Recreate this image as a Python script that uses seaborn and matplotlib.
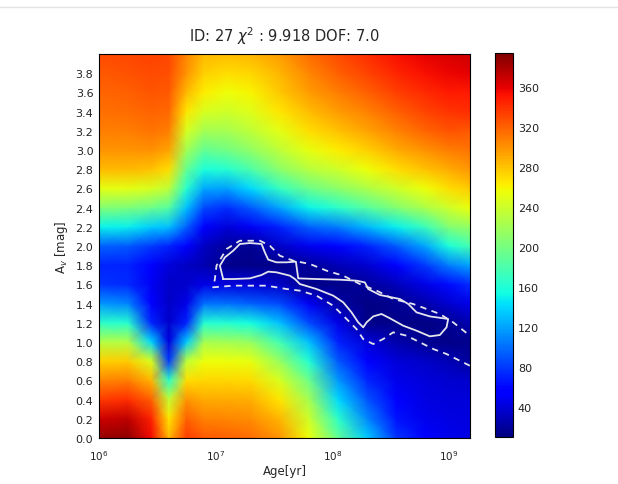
import numpy as np
import matplotlib
matplotlib.use("Agg")
import matplotlib.pyplot as plt
import seaborn as sns
from matplotlib.lines import Line2D

# Grid nodes: log10(age / yr) and extinction A_v [mag]
log_age = [6.0, 6.25, 6.45, 6.6, 6.75, 6.9, 7.1, 7.3, 7.55, 7.8, 8.05, 8.3, 8.55, 8.8, 9.0, 9.2]
av = [0.0, 0.2, 0.4, 0.6, 0.8, 1.0, 1.2, 1.4, 1.6, 1.8, 2.0,
      2.2, 2.4, 2.6, 2.8, 3.0, 3.2, 3.4, 3.6, 3.8, 4.0]

# chi^2 per age column, listed from A_v = 0.0 up to A_v = 4.0
chi2_columns = [
    [385, 368, 335, 305, 275, 228, 165, 115, 78, 72, 95, 150, 205, 250, 283, 298, 308, 313, 318, 323, 328],
    [388, 372, 340, 308, 276, 228, 162, 108, 73, 70, 92, 148, 203, 250, 283, 298, 308, 315, 320, 325, 330],
    [355, 345, 320, 285, 245, 140, 72, 58, 50, 52, 80, 135, 195, 245, 280, 300, 312, 318, 324, 329, 332],
    [285, 265, 235, 165, 80, 42, 36, 35, 35, 40, 70, 130, 185, 232, 268, 293, 307, 316, 322, 327, 330],
    [335, 320, 298, 268, 232, 135, 70, 45, 36, 33, 55, 95, 130, 163, 192, 220, 245, 266, 283, 298, 305],
    [322, 306, 290, 272, 255, 222, 160, 100, 45, 27, 33, 55, 85, 122, 158, 190, 220, 245, 262, 275, 283],
    [320, 305, 290, 272, 255, 220, 160, 100, 42, 15, 20, 40, 75, 118, 162, 198, 222, 240, 255, 268, 282],
    [315, 302, 288, 270, 252, 215, 155, 95, 40, 13, 16, 50, 92, 140, 180, 212, 232, 248, 260, 272, 285],
    [298, 285, 265, 245, 215, 175, 130, 85, 35, 14, 35, 70, 120, 170, 210, 232, 250, 265, 278, 285, 295],
    [255, 240, 220, 195, 160, 130, 85, 50, 14, 20, 48, 95, 150, 195, 230, 252, 268, 282, 295, 305, 315],
    [190, 165, 140, 115, 92, 70, 45, 22, 13, 28, 58, 105, 165, 210, 240, 262, 280, 295, 308, 320, 328],
    [135, 110, 90, 72, 55, 40, 14, 12, 20, 38, 70, 128, 185, 225, 255, 275, 292, 306, 320, 332, 340],
    [78, 64, 54, 47, 40, 26, 13, 16, 30, 55, 92, 148, 205, 240, 268, 290, 306, 320, 333, 344, 352],
    [52, 47, 43, 40, 34, 16, 12, 26, 45, 80, 122, 172, 225, 255, 280, 300, 318, 331, 342, 352, 360],
    [46, 43, 41, 38, 28, 14, 16, 38, 62, 105, 158, 205, 240, 268, 290, 308, 325, 338, 348, 357, 365],
    [44, 42, 40, 36, 20, 15, 28, 46, 75, 122, 178, 215, 255, 278, 298, 312, 322, 340, 348, 360, 368],
]

chi2_min = 9.918
chi2_max = 394.0
dof = 7.0
source_id = 27

# Confidence region outlines (log age, A_v)
inner_age = [7.065, 7.037, 7.080, 7.151, 7.208, 7.294, 7.394, 7.422, 7.451, 7.522, 7.608, 7.688,
             7.699, 7.708, 7.865, 8.065, 8.208, 8.279, 8.308, 8.408, 8.579, 8.651, 8.722, 8.836,
             8.993, 8.979, 8.922, 8.836, 8.722, 8.608, 8.494, 8.422, 8.351, 8.294, 8.265, 8.222,
             8.165, 8.094, 8.008, 7.865, 7.722, 7.680, 7.637, 7.522, 7.451, 7.394, 7.294, 7.151, 7.065]
inner_av = [1.656, 1.795, 1.882, 1.951, 2.021, 2.031, 2.021, 1.934, 1.858, 1.830, 1.830, 1.837,
            1.743, 1.663, 1.656, 1.649, 1.639, 1.621, 1.552, 1.490, 1.448, 1.396, 1.309, 1.267,
            1.240, 1.153, 1.073, 1.059, 1.118, 1.170, 1.247, 1.292, 1.267, 1.205, 1.153, 1.205,
            1.309, 1.413, 1.483, 1.552, 1.604, 1.656, 1.691, 1.726, 1.733, 1.698, 1.663, 1.656, 1.656]

outer_age = [9.179, 9.093, 8.979, 8.865, 8.751, 8.636, 8.522, 8.436, 8.351, 8.265, 8.208, 8.122,
             8.008, 7.865, 7.722, 7.608, 7.437, 7.151, 6.979, 6.994, 7.008, 7.094, 7.208, 7.380,
             7.465, 7.551, 7.665, 7.808, 7.951, 8.093, 8.237, 8.380, 8.522, 8.693, 8.808, 8.922,
             9.036, 9.179]
outer_av = [0.753, 0.805, 0.875, 0.927, 0.997, 1.066, 1.101, 1.031, 0.979, 1.031, 1.135, 1.240,
            1.378, 1.483, 1.535, 1.552, 1.587, 1.587, 1.570, 1.656, 1.795, 1.969, 2.055, 2.055,
            2.003, 1.899, 1.847, 1.813, 1.743, 1.691, 1.604, 1.535, 1.448, 1.396, 1.344, 1.292,
            1.205, 1.066]

decades = [6, 7, 8, 9]
av_ticks = np.round(np.arange(0.0, 3.81, 0.2), 1)
cbar_ticks = [40, 80, 120, 160, 200, 240, 280, 320, 360]

sns.set_theme(style="ticks", rc={
    "xtick.direction": "in", "ytick.direction": "in",
    "xtick.top": True, "ytick.right": True,
    "axes.edgecolor": "black", "axes.linewidth": 0.8,
})
plt.rcParams["font.family"] = ["DejaVu Sans"]

cmap = matplotlib.colormaps["jet"]

fig = plt.figure(figsize=(6.18, 4.85), dpi=100)
ax = fig.add_axes([0.160, 0.0948, 0.6005, 0.7918])
cax = fig.add_axes([0.801, 0.0969, 0.029, 0.7918])

X, Y = np.meshgrid(np.array(log_age), np.array(av))
Z = np.array(chi2_columns, dtype=float).T
mesh = ax.pcolormesh(X, Y, Z, shading="gouraud", cmap=cmap, vmin=chi2_min, vmax=chi2_max,
                     rasterized=True)

ax.plot(inner_age, inner_av, color="#e4e4ee", lw=1.3, solid_joinstyle="round")
ax.plot(outer_age, outer_av, color="#e4e4ee", lw=1.3, ls=(0, (3.5, 3.0)))

ax.set_xlim(6.0, 9.18)
ax.set_ylim(0.0, 4.0)
ax.set_xticks(decades)
ax.set_xticklabels([rf"$10^{{{d}}}$" for d in decades], fontsize=7.5, color="#222222")
ax.set_yticks(av_ticks)
ax.set_yticklabels([f"{v:.1f}" for v in av_ticks], fontsize=8, color="#222222")
ax.tick_params(axis="y", length=3, width=0.6, pad=4)
ax.tick_params(axis="x", length=3, width=0.6, pad=7)

ax.set_xlabel("Age[yr]", fontsize=8.5, labelpad=2)
ax.set_ylabel(r"A$_v$ [mag]", fontsize=8.5, labelpad=4)
ax.set_title(rf"ID: {source_id} $\chi^2$ : {chi2_min:.3f} DOF: {dof:.1f}", fontsize=10.5, pad=9)

cb = fig.colorbar(mesh, cax=cax)
cb.set_ticks(cbar_ticks)
cb.ax.tick_params(labelsize=8, direction="in", length=3, width=0.6, colors="#222222")
cb.outline.set_linewidth(0.8)

fig.add_artist(Line2D([0.0, 1.0], [0.984, 0.984], color="#e2e2e2", lw=1.0))

fig.savefig("out.png", dpi=100)
